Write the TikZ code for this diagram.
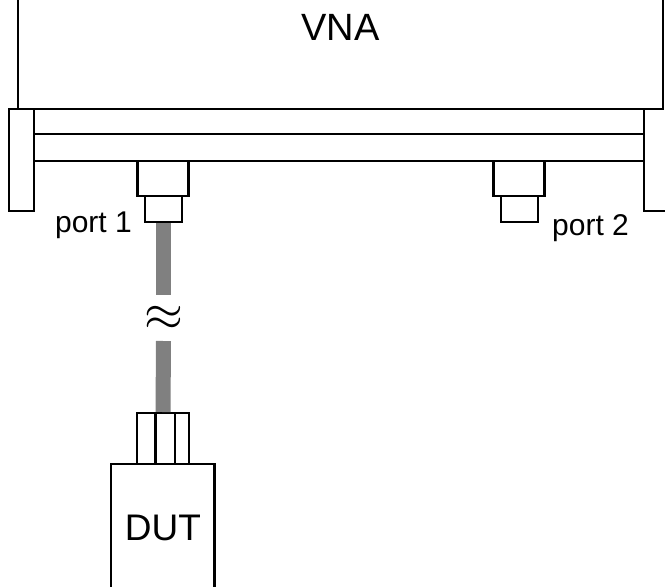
\documentclass[tikz,border=0pt]{standalone}
\usepackage{fontspec}
\setmainfont{Liberation Sans}
\tikzset{
  partbox/.style={draw, line width=2.3pt, fill=white, inner sep=0pt, outer sep=0pt},
  cable/.style={draw=gray, line width=15pt},
  wall/.style={line width=2.3pt, line cap=rect},
  label/.style={inner sep=0pt}
}
\begin{document}
\begin{tikzpicture}[x=1pt,y=-1pt]
  \useasboundingbox (0,0) rectangle (665,587);

  % Instrument outline
  \coordinate (topL) at (18,-5);
  \coordinate (topR) at (663,-5);
  \coordinate (baseL) at (18,109);
  \coordinate (baseR) at (663,109);
  \draw[wall] (topL) -- (baseL);
  \draw[wall] (topR) -- (baseR);
  \node[label, font=\fontsize{38}{38}\selectfont] (vna) at (340.5,27) {VNA};

  % Front panel
  \node[partbox, minimum width=610pt, minimum height=25pt] (bar1) at (339,121.5) {};
  \node[partbox, minimum width=610pt, minimum height=27pt] (bar2) at (339,147.5) {};
  \node[partbox, minimum width=25pt, minimum height=102pt] (flangeL) at (21.5,160) {};
  \draw[wall] (644,109) -- (644,211) -- (670,211);
  \draw[wall] (644,109) -- (663,109);

  % Port 1
  \node[partbox, minimum width=51pt, minimum height=35pt] (port1) at (163,178.5) {};
  \node[partbox, minimum width=37pt, minimum height=26pt] (port1tip) at (163.5,209) {};
  \node[label, font=\fontsize{30}{30}\selectfont, anchor=base east] (port1lbl) at (132,232) {port 1};

  % Port 2
  \node[partbox, minimum width=51pt, minimum height=35pt] (port2) at (519,178.5) {};
  \node[partbox, minimum width=37pt, minimum height=26pt] (port2tip) at (519.5,209) {};
  \node[label, font=\fontsize{30}{30}\selectfont, anchor=base west] (port2lbl) at (552,235) {port 2};

  % Cable with break
  \node[inner sep=0pt, outer sep=0pt, minimum height=46pt] (gap) at (163.5,318) {\raisebox{-3pt}{\scalebox{5}{$\approx$}}};
  \node[partbox, minimum width=52pt, minimum height=51pt] (plug) at (163,438.5) {};
  \draw[cable, shorten <=1pt] (port1tip.south) -- (gap.north);
  \draw[cable, shorten >=1pt] (gap.south) -- (plug.north);

  % Plug ribs
  \foreach \x in {155.5,175} {
    \draw[wall, line cap=butt] (\x,413) -- (\x,464);
  }

  % DUT
  \node[partbox, minimum width=103.5pt, minimum height=140pt] (dut) at (162.75,534) {};
  \node[label, font=\fontsize{37}{37}\selectfont] (dutlbl) at (163,528) {DUT};
\end{tikzpicture}
\end{document}
